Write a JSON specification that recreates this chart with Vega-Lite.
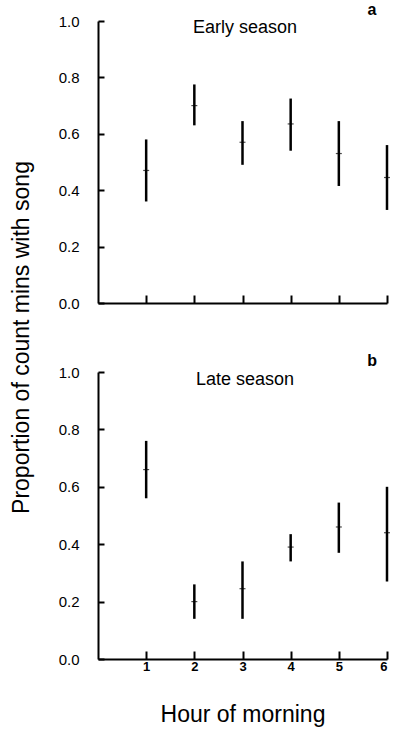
{
  "$schema": "https://vega.github.io/schema/vega-lite/v6.json",
  "background": "white",
  "padding": {"left": 10, "top": 1, "right": 5, "bottom": 5},
  "bounds": "flush",
  "spacing": 69,
  "config": {
    "view": {"stroke": null},
    "font": "Liberation Sans",
    "axis": {
      "grid": false,
      "domainColor": "black",
      "domainWidth": 2,
      "tickColor": "black",
      "tickWidth": 2,
      "labelColor": "black",
      "titleColor": "black",
      "labelFont": "Liberation Sans",
      "titleFont": "Liberation Sans",
      "titleFontWeight": "normal"
    }
  },
  "datasets": {
    "songs": [
      {"season": "Early season", "panel": "a", "hour": 1, "mean": 0.47, "lower": 0.36, "upper": 0.58},
      {"season": "Early season", "panel": "a", "hour": 2, "mean": 0.70, "lower": 0.63, "upper": 0.775},
      {"season": "Early season", "panel": "a", "hour": 3, "mean": 0.57, "lower": 0.49, "upper": 0.645},
      {"season": "Early season", "panel": "a", "hour": 4, "mean": 0.635, "lower": 0.54, "upper": 0.725},
      {"season": "Early season", "panel": "a", "hour": 5, "mean": 0.53, "lower": 0.415, "upper": 0.645},
      {"season": "Early season", "panel": "a", "hour": 6, "mean": 0.445, "lower": 0.33, "upper": 0.56},
      {"season": "Late season", "panel": "b", "hour": 1, "mean": 0.66, "lower": 0.56, "upper": 0.76},
      {"season": "Late season", "panel": "b", "hour": 2, "mean": 0.20, "lower": 0.14, "upper": 0.26},
      {"season": "Late season", "panel": "b", "hour": 3, "mean": 0.245, "lower": 0.14, "upper": 0.34},
      {"season": "Late season", "panel": "b", "hour": 4, "mean": 0.39, "lower": 0.34, "upper": 0.435},
      {"season": "Late season", "panel": "b", "hour": 5, "mean": 0.46, "lower": 0.37, "upper": 0.545},
      {"season": "Late season", "panel": "b", "hour": 6, "mean": 0.44, "lower": 0.27, "upper": 0.60}
    ]
  },
  "vconcat": [
    {
      "width": 289,
      "height": 282,
      "data": {"name": "songs"},
      "transform": [{"filter": "datum.season == 'Early season'"}],
      "layer": [
        {
          "mark": {"type": "rule", "strokeWidth": 2.5, "color": "black"},
          "encoding": {
            "x": {
              "field": "hour", "type": "quantitative",
              "scale": {"domain": [0, 6], "nice": false, "zero": false},
              "axis": {"values": [1, 2, 3, 4, 5, 6], "labels": false, "title": null, "tickSize": -8}
            },
            "y": {
              "field": "lower", "type": "quantitative",
              "scale": {"domain": [0, 1], "nice": false},
              "axis": {
                "values": [0, 0.2, 0.4, 0.6, 0.8, 1.0], "format": ".1f",
                "tickSize": -6, "labelPadding": 25, "labelFontSize": 15,
                "title": "Proportion of count mins with song",
                "titleFontSize": 23, "titleAngle": -90, "titleBaseline": "bottom",
                "titleAlign": "center", "titleX": -65, "titleY": 316
              }
            },
            "y2": {"field": "upper"}
          }
        },
        {
          "mark": {"type": "tick", "orient": "horizontal", "size": 6, "thickness": 1.2, "color": "black"},
          "encoding": {
            "x": {"field": "hour", "type": "quantitative"},
            "y": {"field": "mean", "type": "quantitative"}
          }
        },
        {
          "transform": [{"filter": "datum.hour == 1"}],
          "mark": {"type": "text", "fontSize": 18, "align": "center", "baseline": "alphabetic", "color": "black"},
          "encoding": {
            "x": {"datum": 3.05},
            "y": {"datum": 0.956},
            "text": {"field": "season"}
          }
        },
        {
          "transform": [{"filter": "datum.hour == 1"}],
          "mark": {"type": "text", "fontSize": 16, "fontWeight": "bold", "align": "center", "baseline": "alphabetic", "color": "black"},
          "encoding": {
            "x": {"datum": 5.69},
            "y": {"datum": 1.022},
            "text": {"field": "panel"}
          }
        }
      ]
    },
    {
      "width": 289,
      "height": 287,
      "data": {"name": "songs"},
      "transform": [{"filter": "datum.season == 'Late season'"}],
      "layer": [
        {
          "mark": {"type": "rule", "strokeWidth": 2.5, "color": "black"},
          "encoding": {
            "x": {
              "field": "hour", "type": "quantitative",
              "scale": {"domain": [0, 6], "nice": false, "zero": false},
              "axis": {
                "values": [1, 2, 3, 4, 5, 6], "tickSize": -8, "labelPadding": 9,
                "labelFontSize": 13, "labelFontWeight": "bold",
                "title": "Hour of morning", "titleFontSize": 23, "titlePadding": 30
              }
            },
            "y": {
              "field": "lower", "type": "quantitative",
              "scale": {"domain": [0, 1], "nice": false},
              "axis": {
                "values": [0, 0.2, 0.4, 0.6, 0.8, 1.0], "format": ".1f",
                "tickSize": -6, "labelPadding": 25, "labelFontSize": 15,
                "title": null
              }
            },
            "y2": {"field": "upper"}
          }
        },
        {
          "mark": {"type": "tick", "orient": "horizontal", "size": 6, "thickness": 1.2, "color": "black"},
          "encoding": {
            "x": {"field": "hour", "type": "quantitative"},
            "y": {"field": "mean", "type": "quantitative"}
          }
        },
        {
          "transform": [{"filter": "datum.hour == 1"}],
          "mark": {"type": "text", "fontSize": 18, "align": "center", "baseline": "alphabetic", "color": "black"},
          "encoding": {
            "x": {"datum": 3.05},
            "y": {"datum": 0.956},
            "text": {"field": "season"}
          }
        },
        {
          "transform": [{"filter": "datum.hour == 1"}],
          "mark": {"type": "text", "fontSize": 16, "fontWeight": "bold", "align": "center", "baseline": "alphabetic", "color": "black"},
          "encoding": {
            "x": {"datum": 5.69},
            "y": {"datum": 1.022},
            "text": {"field": "panel"}
          }
        }
      ]
    }
  ]
}
